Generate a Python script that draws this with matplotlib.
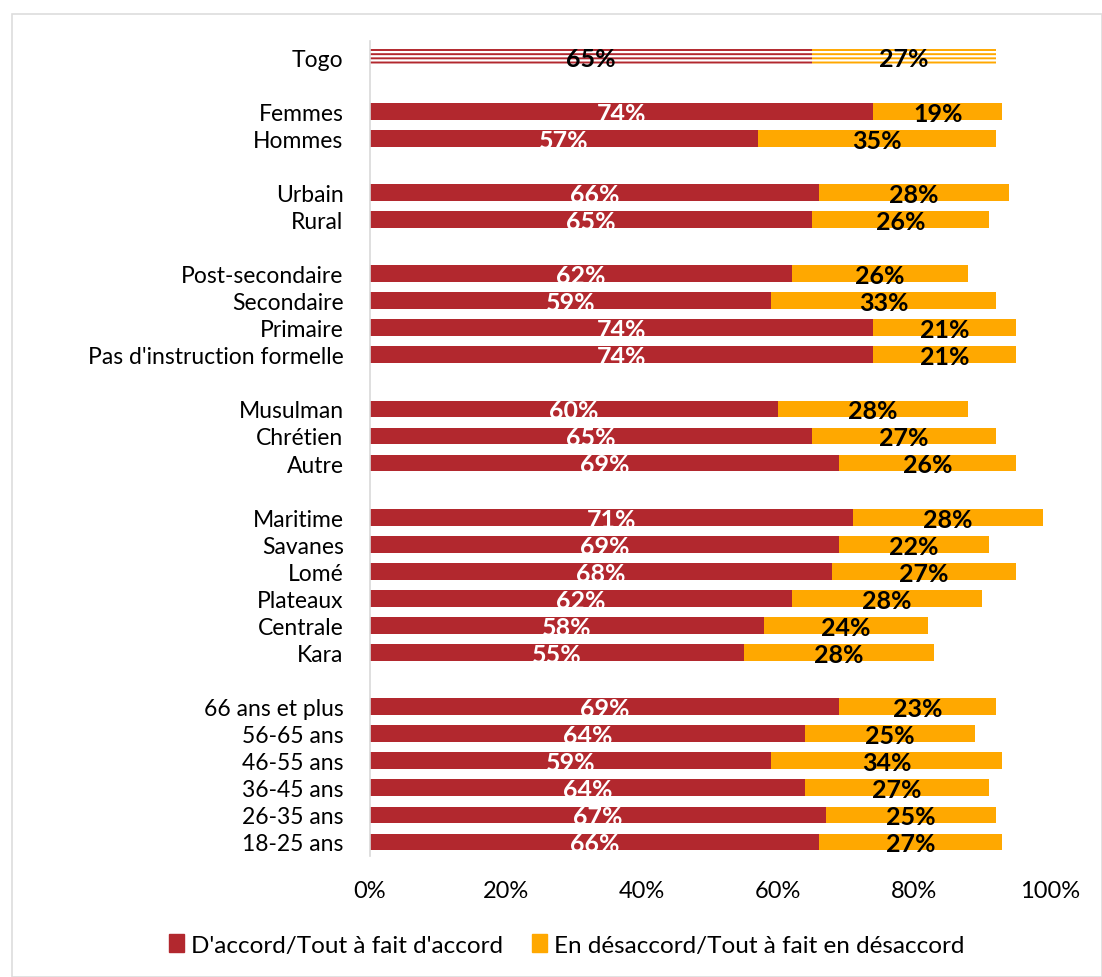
import matplotlib
matplotlib.use("Agg")
import matplotlib.pyplot as plt
from matplotlib.patches import Rectangle, Patch
import numpy as np

categories = ["Togo", "Femmes", "Hommes", "Urbain", "Rural",
              "Post-secondaire", "Secondaire", "Primaire", "Pas d'instruction formelle",
              "Musulman", "Chrétien", "Autre",
              "Maritime", "Savanes", "Lomé", "Plateaux", "Centrale", "Kara",
              "66 ans et plus", "56-65 ans", "46-55 ans", "36-45 ans", "26-35 ans", "18-25 ans"]
rows = [0, 2, 3, 5, 6, 8, 9, 10, 11, 13, 14, 15, 17, 18, 19, 20, 21, 22, 24, 25, 26, 27, 28, 29]
agree = [65, 74, 57, 66, 65, 62, 59, 74, 74, 60, 65, 69, 71, 69, 68, 62, 58, 55, 69, 64, 59, 64, 67, 66]
disagree = [27, 19, 35, 28, 26, 26, 33, 21, 21, 28, 27, 26, 28, 22, 27, 28, 24, 28, 23, 25, 34, 27, 25, 27]
xticks = [0, 20, 40, 60, 80, 100]
series_names = ["D'accord/Tout à fait d'accord", "En désaccord/Tout à fait en désaccord"]

RED = "#B2282E"
ORANGE = "#FFA800"
plt.rcParams['font.family'] = ['Lato', 'DejaVu Sans']
plt.rcParams['hatch.linewidth'] = 1.6

W, H = 1102, 978
fig = plt.figure(figsize=(W / 100, H / 100), dpi=100)
fig.patches.append(Rectangle((12 / W, 0), 1 - 12 / W, 1 - 15 / H, transform=fig.transFigure,
                             fill=False, edgecolor="#DDDDDD", linewidth=1.2))
ax = fig.add_axes([370 / W, 1 - 856.5 / H, 680 / W, 814.7 / H])

bh = 0.62
for i, (r, a, d) in enumerate(zip(rows, agree, disagree)):
    if i == 0:
        ax.barh(r, a, height=0.58, color=RED, edgecolor="white", hatch="----", linewidth=0)
        ax.barh(r, d, left=a, height=0.58, color=ORANGE, edgecolor="white", hatch="----", linewidth=0)
        ca, cd = "black", "black"
    else:
        ax.barh(r, a, height=bh, color=RED, linewidth=0)
        ax.barh(r, d, left=a, height=bh, color=ORANGE, linewidth=0)
        ca, cd = "white", "black"
    ax.text(a / 2, r + 0.07, f"{a}%", ha="center", va="center", color=ca,
            fontsize=18, fontweight="bold")
    ax.text(a + d / 2, r + 0.07, f"{d}%", ha="center", va="center", color=cd,
            fontsize=18, fontweight="bold")

ax.set_ylim(29.5, -0.6)
ax.set_xlim(0, 100)
ax.set_yticks(rows)
ax.set_yticklabels(categories, fontsize=16.5)
ax.set_xticks(xticks)
ax.set_xticklabels([f"{t}%" for t in xticks], fontsize=17)
ax.tick_params(axis="y", length=0, pad=19)
ax.tick_params(axis="x", length=0, pad=18)
for s in ["top", "right", "bottom"]:
    ax.spines[s].set_visible(False)
ax.spines["left"].set_color("#D9D9D9")
ax.spines["left"].set_linewidth(1.2)

handles = [Patch(color=RED, label=series_names[0]), Patch(color=ORANGE, label=series_names[1])]
fig.legend(handles=handles, loc="center", bbox_to_anchor=(567 / W, 1 - 946 / H), ncol=2,
           frameon=False, fontsize=17.5, handlelength=0.6, handleheight=0.75,
           handletextpad=0.3, columnspacing=1.2)

fig.savefig("out.png", dpi=100)
